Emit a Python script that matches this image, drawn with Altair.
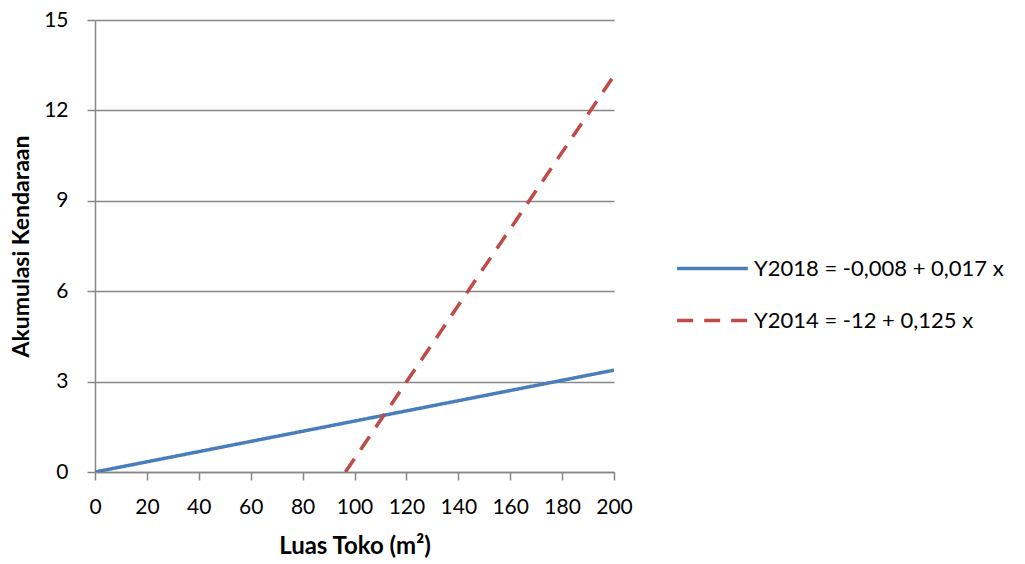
import altair as alt
import pandas as pd

series_names = ["Y2018 = -0,008 + 0,017 x", "Y2014 = -12 + 0,125 x"]
x_2018 = [0, 200]
y_2018 = [0, 3.38]
x_2014 = [96.5, 200]
y_2014 = [0, 13.15]
colors = ["#4a7ebb", "#be4b48"]

df = pd.DataFrame({
    "x": x_2018 + x_2014,
    "y": y_2018 + y_2014,
    "s": [series_names[0]] * len(x_2018) + [series_names[1]] * len(x_2014),
})

FONT = "Lato"

chart = alt.Chart(df).mark_line(strokeWidth=3.5, clip=True).encode(
    x=alt.X("x:Q", scale=alt.Scale(domain=[0, 200], nice=False),
            axis=alt.Axis(title="Luas Toko (m²)", values=list(range(0, 201, 20)),
                          grid=False, tickSize=8, labelPadding=16, titlePadding=17,
                          labelOverlap=False, labelFlush=False, labelBound=False,
                          labelFontSize=21, titleFontSize=24)),
    y=alt.Y("y:Q", scale=alt.Scale(domain=[0, 15], nice=False),
            axis=alt.Axis(title="Akumulasi Kendaraan", values=[0, 3, 6, 9, 12, 15],
                          grid=True, tickSize=8, labelPadding=19, titlePadding=10,
                          labelOverlap=False, labelFlush=False,
                          labelFontSize=21, titleFontSize=23)),
    color=alt.Color("s:N", scale=alt.Scale(domain=series_names, range=colors),
                    legend=alt.Legend(title=None, orient="none", legendX=580, legendY=211,
                                      symbolType="stroke", symbolSize=5000,
                                      symbolStrokeWidth=3.5, labelFontSize=22,
                                      labelFont=FONT, labelColor="black", labelLimit=400,
                                      rowPadding=3, labelOffset=4)),
    strokeDash=alt.StrokeDash("s:N", scale=alt.Scale(domain=series_names, range=[[1, 0], [16, 11]]),
                              legend=None),
    detail="s:N",
).properties(
    width=519, height=452,
    padding={"left": 95, "top": 20, "right": 411, "bottom": 92},
    autosize=alt.AutoSizeParams(type="none"),
).configure_view(stroke=None).configure_axis(
    labelFont=FONT, labelColor="black",
    titleFont=FONT, titleFontWeight="bold", titleColor="black",
    domainColor="#868686", tickColor="#868686", gridColor="#868686",
    domainWidth=1.5, tickWidth=1.5, gridWidth=1.5,
)

chart.save("out.html", embed_options={"renderer": "svg", "actions": False})
